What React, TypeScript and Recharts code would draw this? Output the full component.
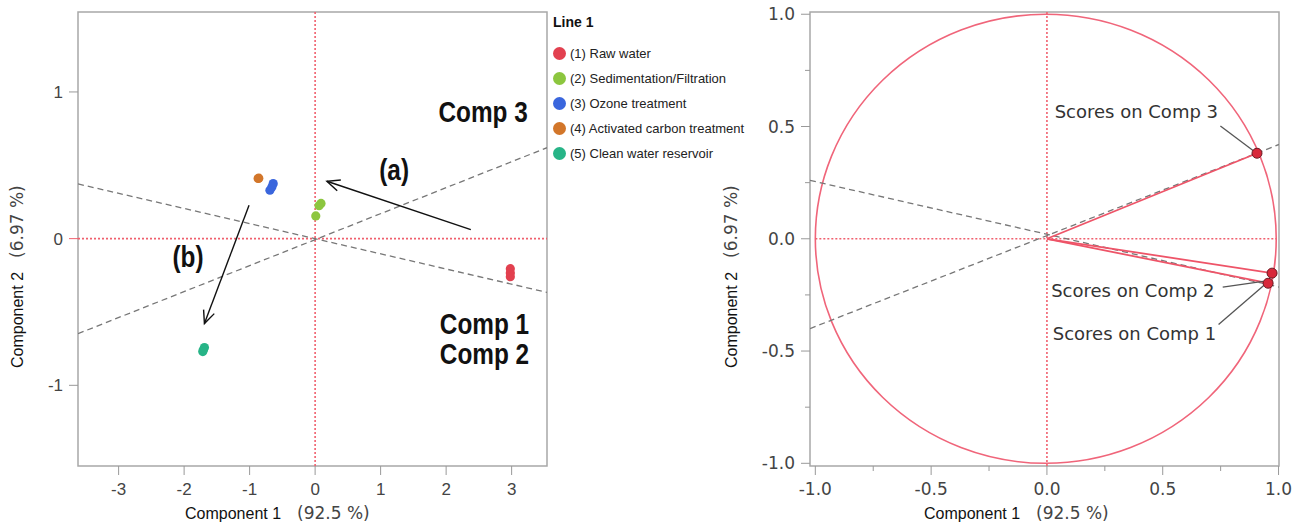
import React from "react";
import {
  ScatterChart,
  Scatter,
  XAxis,
  YAxis,
  ReferenceLine,
  ReferenceArea,
  ReferenceDot,
  Label,
} from "recharts";

// score plot: one array per treatment stage (Component 1, Component 2)
const rawWater = [
  { x: 2.98, y: -0.205 },
  { x: 2.98, y: -0.235 },
  { x: 2.98, y: -0.26 },
];
const sedimentation = [
  { x: 0.09, y: 0.24 },
  { x: 0.06, y: 0.225 },
  { x: 0.01, y: 0.155 },
];
const ozone = [
  { x: -0.64, y: 0.375 },
  { x: -0.66, y: 0.352 },
  { x: -0.69, y: 0.33 },
];
const activatedCarbon = [
  { x: -0.87, y: 0.41 },
  { x: -0.86, y: 0.412 },
];
const reservoir = [
  { x: -1.69, y: -0.742 },
  { x: -1.705, y: -0.757 },
  { x: -1.715, y: -0.77 },
];

const groupNames = [
  "(1) Raw water",
  "(2) Sedimentation/Filtration",
  "(3) Ozone treatment",
  "(4) Activated carbon treatment",
  "(5) Clean water reservoir",
];
const groupColors = ["#e2404f", "#8cc63f", "#3a66dd", "#d2762a", "#27b487"];
const groups = [rawWater, sedimentation, ozone, activatedCarbon, reservoir];

const scoreXTicks = [-3, -2, -1, 0, 1, 2, 3];
const scoreYTicks = [-1, 0, 1];

// loading plot: three score vectors
const loadingNames = ["Scores on Comp 1", "Scores on Comp 2", "Scores on Comp 3"];
const loadingX = [0.955, 0.972, 0.907];
const loadingY = [-0.198, -0.153, 0.381];

const loadingTicks = [-1, -0.75, -0.5, -0.25, 0, 0.25, 0.5, 0.75, 1];

// annotation anchors (data units)
const scoreNotes = [
  { lines: ["Comp 3"], x: 2.565, y: 0.863 },
  { lines: ["Comp 1", "Comp 2"], x: 2.585, y: -0.577 },
  { lines: ["(a)"], x: 1.206, y: 0.47 },
  { lines: ["(b)"], x: -1.94, y: -0.12 },
];
const scoreArrows = [
  [{ x: 2.377, y: 0.061 }, { x: 0.18, y: 0.391 }],
  [{ x: -1.009, y: 0.227 }, { x: -1.69, y: -0.579 }],
];
const scoreGuides = [
  [{ x: -3.62, y: 0.373 }, { x: 3.54, y: -0.366 }],
  [{ x: -3.62, y: -0.648 }, { x: 3.54, y: 0.62 }],
];

const loadingGuides = [
  [{ x: -1.023, y: 0.26 }, { x: 1.002, y: -0.215 }],
  [{ x: -1.023, y: -0.4 }, { x: 1.002, y: 0.42 }],
];
const loadingLabelPos = [
  { x: 0.378, y: -0.424 },
  { x: 0.371, y: -0.231 },
  { x: 0.386, y: 0.566 },
];
const leaderStart = [
  { x: 0.741, y: -0.382 },
  { x: 0.759, y: -0.215 },
  { x: 0.749, y: 0.502 },
];
const leaderEnd = [
  { x: 0.95, y: -0.196 },
  { x: 0.933, y: -0.19 },
  { x: 0.9, y: 0.385 },
];

const FRAME = "#a8a8a8";
const ZERO = "#f0606e";
const SANS = "'Liberation Sans', Arial, sans-serif";
const TAHOMA = "'DejaVu Sans', Verdana, sans-serif";

const AxisTick = (props: any) => {
  const { x, y, payload, side, font, size, minorOf, decimals } = props;
  const v = payload.value as number;
  const major = minorOf ? Math.abs(v / minorOf - Math.round(v / minorOf)) < 1e-6 : true;
  const len = major ? 9 : 5;
  const label = decimals ? v.toFixed(decimals) : String(v);
  if (side === "bottom") {
    return (
      <g>
        <line x1={x} y1={y} x2={x} y2={y + len} stroke="#999" />
        {major && (
          <text x={x} y={y + 29} textAnchor="middle" fill="#444" fontFamily={font} fontSize={size}>
            {label}
          </text>
        )}
      </g>
    );
  }
  return (
    <g>
      <line x1={x - len} y1={y} x2={x} y2={y} stroke={v === 0 && !decimals ? ZERO : "#999"} />
      {major && (
        <text x={x - 15} y={y + 6} textAnchor="end" fill="#444" fontFamily={font} fontSize={size}>
          {label}
        </text>
      )}
    </g>
  );
};

const XTitle = (props: any) => {
  const vb = props.viewBox;
  return (
    <text x={vb.x + props.shift} y={vb.y + 53}>
      <tspan fontFamily={SANS} fontSize={16} fill="#111">Component 1</tspan>
      <tspan dx={16} fontFamily={TAHOMA} fontSize={17} fill="#444">(92.5 %)</tspan>
    </text>
  );
};

const YTitle = (props: any) => {
  const vb = props.viewBox;
  const cx = props.left;
  const cy = vb.y + 356;
  return (
    <text x={cx} y={cy} transform={`rotate(-90 ${cx} ${cy})`} dominantBaseline="central">
      <tspan fontFamily={SANS} fontSize={16} fill="#111">Component 2</tspan>
      <tspan dx={14} fontFamily={TAHOMA} fontSize={17} fill="#444">(6.97 %)</tspan>
    </text>
  );
};

const Arrow = (p: any) => {
  const { x1, y1, x2, y2 } = p;
  const a = Math.atan2(y2 - y1, x2 - x1);
  const h = 14;
  const s = 0.42;
  const pts = `${x2 - h * Math.cos(a - s)},${y2 - h * Math.sin(a - s)} ${x2},${y2} ${x2 - h * Math.cos(a + s)},${y2 - h * Math.sin(a + s)}`;
  return (
    <g stroke="#111" strokeWidth={1.4} fill="none">
      <line x1={x1} y1={y1} x2={x2} y2={y2} />
      <polyline points={pts} />
    </g>
  );
};

// narrow, heavy caption; lines stack 30px apart
const CompNote = (p: any) => (
  <text
    transform={`translate(${p.cx} ${p.cy}) scale(0.84 1)`}
    textAnchor="middle"
    fontFamily={SANS}
    fontSize={29}
    fontWeight="bold"
    fill="#111"
  >
    {p.lines.map((t: string, i: number) => (
      <tspan key={t} x={0} dy={i === 0 ? "0.36em" : 30}>
        {t}
      </tspan>
    ))}
  </text>
);

const ScoreLabel = (p: any) => (
  <text x={p.cx} y={p.cy} dy="0.36em" textAnchor="middle" fontFamily={TAHOMA} fontSize={18} fill="#333">
    {p.text}
  </text>
);

const Ellipse = (p: any) => (
  <ellipse
    cx={p.x + p.width / 2}
    cy={p.y + p.height / 2}
    rx={p.width / 2}
    ry={p.height / 2}
    fill="none"
    stroke="#f0657a"
    strokeWidth={1.6}
  />
);

const Legend = () => (
  <div style={{ position: "absolute", left: 553, top: 14, fontFamily: SANS }}>
    <div style={{ fontWeight: "bold", fontSize: 14, marginBottom: 11, color: "#111" }}>Line 1</div>
    {groupNames.map((name, i) => (
      <div key={name} style={{ display: "flex", alignItems: "center", height: 25, fontSize: 13, color: "#222" }}>
        <div
          style={{
            width: 13,
            height: 13,
            borderRadius: "50%",
            background: groupColors[i],
            marginRight: 4,
          }}
        />
        <span>{name}</span>
      </div>
    ))}
  </div>
);

const ScorePlot = () => (
  <ScatterChart width={550} height={526} margin={{ top: 12, right: 3, bottom: 0, left: 0 }}>
    <XAxis
      type="number"
      dataKey="x"
      domain={[-3.62, 3.54]}
      allowDataOverflow
      ticks={scoreXTicks}
      interval={0}
      height={60}
      axisLine={false}
      tickLine={false}
      tickSize={0}
      tickMargin={0}
      tick={<AxisTick side="bottom" font={SANS} size={17} />}
    >
      <Label content={<XTitle shift={107} />} />
    </XAxis>
    <YAxis
      type="number"
      dataKey="y"
      domain={[-1.55, 1.545]}
      allowDataOverflow
      ticks={scoreYTicks}
      interval={0}
      width={78}
      axisLine={false}
      tickLine={false}
      tickSize={0}
      tickMargin={0}
      tick={<AxisTick side="left" font={SANS} size={17} />}
    >
      <Label content={<YTitle left={17} />} />
    </YAxis>
    <ReferenceArea x1={-3.62} x2={3.54} y1={-1.55} y2={1.545} fill="none" stroke={FRAME} strokeWidth={1.5} ifOverflow="visible" />
    <ReferenceLine x={0} stroke={ZERO} strokeWidth={1.6} strokeDasharray="2 2" />
    <ReferenceLine y={0} stroke={ZERO} strokeWidth={1.6} strokeDasharray="2 2" />
    {scoreGuides.map((seg, i) => (
      <ReferenceLine key={`g${i}`} segment={seg} stroke="#777" strokeWidth={1.3} strokeDasharray="6 4" ifOverflow="hidden" />
    ))}
    {scoreArrows.map((seg, i) => (
      <ReferenceLine key={`a${i}`} segment={seg} ifOverflow="visible" shape={<Arrow />} />
    ))}
    {groups.map((pts, i) => (
      <Scatter
        key={groupNames[i]}
        name={groupNames[i]}
        data={pts}
        fill={groupColors[i]}
        isAnimationActive={false}
        shape={(p: any) => <circle cx={p.cx} cy={p.cy} r={4.6} fill={groupColors[i]} />}
      />
    ))}
    {scoreNotes.map((n) => (
      <ReferenceDot key={n.lines[0]} x={n.x} y={n.y} ifOverflow="visible" shape={<CompNote lines={n.lines} />} />
    ))}
  </ScatterChart>
);

const loadingPoints = loadingX.map((x, i) => ({ x, y: loadingY[i], name: loadingNames[i] }));

const LoadingPlot = () => (
  <ScatterChart width={580} height={526} margin={{ top: 12, right: 21, bottom: 0, left: 0 }}>
    <XAxis
      type="number"
      dataKey="x"
      domain={[-1.023, 1.002]}
      allowDataOverflow
      ticks={loadingTicks}
      interval={0}
      height={60}
      axisLine={false}
      tickLine={false}
      tickSize={0}
      tickMargin={0}
      tick={<AxisTick side="bottom" font={TAHOMA} size={17} minorOf={0.5} decimals={1} />}
    >
      <Label content={<XTitle shift={114} />} />
    </XAxis>
    <YAxis
      type="number"
      dataKey="y"
      domain={[-1.012, 1.01]}
      allowDataOverflow
      ticks={loadingTicks}
      interval={0}
      width={90}
      axisLine={false}
      tickLine={false}
      tickSize={0}
      tickMargin={0}
      tick={<AxisTick side="left" font={TAHOMA} size={17} minorOf={0.5} decimals={1} />}
    >
      <Label content={<YTitle left={11} />} />
    </YAxis>
    <ReferenceArea x1={-1.023} x2={1.002} y1={-1.012} y2={1.01} fill="none" stroke={FRAME} strokeWidth={1.5} ifOverflow="visible" />
    <ReferenceArea x1={-1} x2={0.99} y1={-1} y2={1} ifOverflow="visible" shape={<Ellipse />} />
    <ReferenceLine x={0} stroke={ZERO} strokeWidth={1.6} strokeDasharray="2 2" />
    <ReferenceLine segment={[{ x: -1, y: 0 }, { x: 0.99, y: 0 }]} stroke={ZERO} strokeWidth={1.6} strokeDasharray="2 2" ifOverflow="visible" />
    {loadingGuides.map((seg, i) => (
      <ReferenceLine key={`lg${i}`} segment={seg} stroke="#777" strokeWidth={1.3} strokeDasharray="6 4" ifOverflow="hidden" />
    ))}
    {loadingPoints.map((p) => (
      <ReferenceLine key={`v${p.name}`} segment={[{ x: 0, y: 0 }, { x: p.x, y: p.y }]} stroke="#ee5468" strokeWidth={1.8} ifOverflow="visible" />
    ))}
    {leaderStart.map((s, i) => (
      <ReferenceLine key={`ld${i}`} segment={[s, leaderEnd[i]]} stroke="#555" strokeWidth={1.3} ifOverflow="visible" />
    ))}
    <Scatter
      data={loadingPoints}
      isAnimationActive={false}
      shape={(p: any) => <circle cx={p.cx} cy={p.cy} r={5} fill="#d8283a" stroke="#6a1a22" strokeWidth={1} />}
    />
    {loadingPoints.map((p, i) => (
      <ReferenceDot
        key={p.name}
        x={loadingLabelPos[i].x}
        y={loadingLabelPos[i].y}
        ifOverflow="visible"
        shape={<ScoreLabel text={p.name} />}
      />
    ))}
  </ScatterChart>
);

export default function App() {
  return (
    <div style={{ position: "absolute", left: 0, top: 0, width: 1300, height: 526, background: "#fff" }}>
      <div style={{ position: "absolute", left: 0, top: 0 }}>
        <ScorePlot />
      </div>
      <Legend />
      <div style={{ position: "absolute", left: 720, top: 0 }}>
        <LoadingPlot />
      </div>
    </div>
  );
}
